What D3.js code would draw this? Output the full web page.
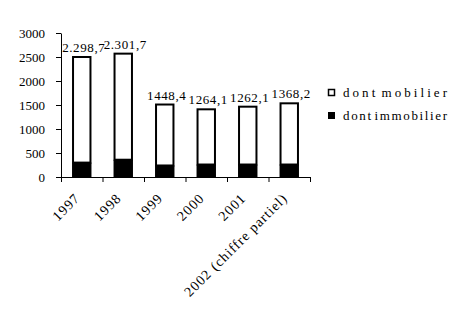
<!DOCTYPE html>
<html>
<head>
<meta charset="utf-8">
<script src="https://cdn.jsdelivr.net/npm/d3@7"></script>
<style>
  body { margin: 0; background: #fff; }
  svg { display: block; font-family: "Liberation Serif", "Times New Roman", serif; }
</style>
</head>
<body>
<svg id="chart" width="453" height="313"></svg>
<script>
const categories = ["1997", "1998", "1999", "2000", "2001", "2002 (chiffre partiel)"];
const immobilier = [300, 360, 240, 260, 260, 260];
const mobilier = [2200, 2210, 1270, 1150, 1205, 1275];
const valueLabels = ["2.298,7", "2.301,7", "1448,4", "1264,1", "1262,1", "1368,2"];
const yTicks = [0, 500, 1000, 1500, 2000, 2500, 3000];
const seriesNames = ["dont mobilier", "dont immobilier"];

(function () {
const svg = d3.select("#chart");
svg.append("rect").attr("width", 453).attr("height", 313).attr("fill", "#fff");

const mLeft = 61, mRight = 310, mTop = 33, mBottom = 177;

const x = d3.scaleBand().domain(categories).range([mLeft, mRight])
  .paddingInner(0.58).paddingOuter(0.29);
const y = d3.scaleLinear().domain([0, 3000]).range([mBottom, mTop]);
const xb = d3.scaleLinear().domain([0, categories.length]).range([mLeft, mRight]);

const data = categories.map((c, i) => ({ c, imm: immobilier[i], mob: mobilier[i], total: immobilier[i] + mobilier[i], label: valueLabels[i] }));

const g = svg.append("g");
g.selectAll("rect.mob").data(data).join("rect")
  .attr("class", "mob")
  .attr("x", d => x(d.c))
  .attr("width", x.bandwidth())
  .attr("y", d => y(d.total))
  .attr("height", d => y(d.imm) - y(d.total))
  .attr("fill", "#fff").attr("stroke", "#000").attr("stroke-width", 2);
g.selectAll("rect.imm").data(data).join("rect")
  .attr("class", "imm")
  .attr("x", d => x(d.c) - 1)
  .attr("width", x.bandwidth() + 2)
  .attr("y", d => y(d.imm))
  .attr("height", d => y(0) - y(d.imm))
  .attr("fill", "#000");

g.selectAll("text.val").data(data).join("text")
  .attr("class", "val")
  .attr("x", d => x(d.c) + x.bandwidth() / 2 + 2)
  .attr("y", d => y(d.total) - 5)
  .attr("text-anchor", "middle")
  .attr("font-size", 13)
  .attr("letter-spacing", 0.6)
  .text(d => d.label);

const yAxis = svg.append("g").attr("transform", `translate(${mLeft},0)`)
  .call(d3.axisLeft(y).tickValues(yTicks).tickSize(5).tickSizeOuter(0).tickPadding(11).tickFormat(d3.format("d")));
yAxis.selectAll("text").attr("font-size", 13).attr("font-family", "Liberation Serif, serif").attr("fill", "#000");
yAxis.selectAll("line,path").attr("stroke", "#000");

const xAxis = svg.append("g").attr("transform", `translate(0,${mBottom})`)
  .call(d3.axisBottom(xb).tickValues(d3.range(categories.length + 1)).tickSize(5).tickSizeOuter(0).tickFormat(""));
xAxis.selectAll("line,path").attr("stroke", "#000");

svg.append("g").selectAll("text").data(categories).join("text")
  .attr("transform", d => `translate(${x(d) + x.bandwidth() / 2 - 1},${mBottom + 22}) rotate(-45)`)
  .attr("text-anchor", "end")
  .attr("font-size", 14)
  .attr("letter-spacing", 1)
  .text(d => d);

const legend = svg.append("g");
const fills = ["#fff", "#000"];
seriesNames.forEach((name, i) => {
  const ly = 89 + i * 23;
  legend.append("rect").attr("x", 328.5).attr("y", ly + 0.5).attr("width", 6).attr("height", 6)
    .attr("fill", fills[i]).attr("stroke", "#000").attr("stroke-width", i === 0 ? 1.5 : 1);
  legend.append("text").attr("x", 343).attr("y", ly + 8)
    .attr("font-size", 13)
    .attr("word-spacing", -3)
    .attr("textLength", 104)
    .attr("lengthAdjust", "spacing")
    .text(name);
});
})();
</script>
</body>
</html>
